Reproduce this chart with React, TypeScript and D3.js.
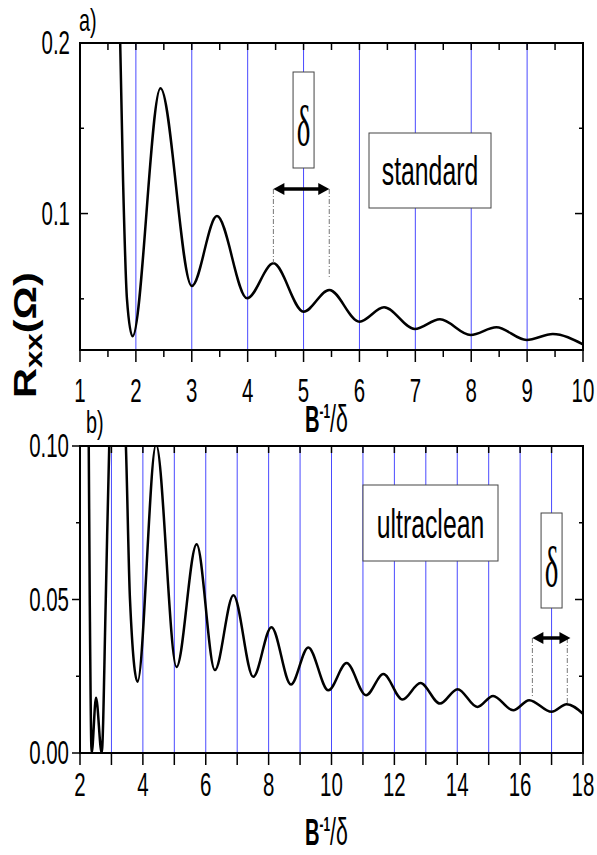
import React from 'react';
import * as d3 from 'd3';

// ---- data ----
const standardB = [1.70, 1.77, 1.84, 1.94, 2.44, 3.0, 3.45, 3.99, 4.46, 5.0, 5.46, 6.0, 6.44, 6.99, 7.44, 7.99, 8.45, 8.99, 9.46, 10.0];
const standardR = [0.23, 0.12, 0.05, 0.028, 0.1734, 0.0575, 0.0985, 0.0503, 0.0708, 0.0425, 0.0552, 0.0366, 0.045, 0.0323, 0.038, 0.0288, 0.0333, 0.0259, 0.0294, 0.0233];

const ultraB = [2.24, 2.31, 2.37, 2.51, 2.69, 2.82, 2.93, 3.2, 3.46, 3.59, 3.83, 4.42, 5.07, 5.71, 6.29, 6.88, 7.51, 8.09, 8.71, 9.26, 9.9, 10.48, 11.1, 11.65, 12.26, 12.83, 13.45, 14.01, 14.64, 15.14, 15.78, 16.29, 17.0, 17.48, 18.0];
const ultraR = [0.16, 0.05, 0.0, 0.018, 0.0, 0.05, 0.10, 0.14, 0.10, 0.05, 0.0232, 0.1005, 0.028, 0.068, 0.027, 0.0514, 0.0248, 0.041, 0.0223, 0.0344, 0.0204, 0.0293, 0.0188, 0.0257, 0.0174, 0.0228, 0.0161, 0.0208, 0.015, 0.0186, 0.0139, 0.0172, 0.0134, 0.0159, 0.0128];

const topXLabels = [1, 2, 3, 4, 5, 6, 7, 8, 9, 10];
const topYLabels = ['0.1', '0.2'];
const botXLabels = [2, 4, 6, 8, 10, 12, 14, 16, 18];
const botYLabels = ['0.00', '0.05', '0.10'];

// ---- layout ----
const W = 597, H = 855;
const L = 80, R = 583;
const PA = { top: 43, bottom: 350 };
const PB = { top: 446, bottom: 753 };
const FONT = "'Liberation Sans', Arial, sans-serif";
const SERIF = "'Liberation Serif', 'Times New Roman', serif";
const GRID = '#4a4aff';

type TP = { x: number; y: number; size: number; sx?: number; sy?: number; anchor?: string; weight?: string; family?: string; rotate?: number; children: any };
function T({ x, y, size, sx = 0.65, sy = 1, anchor = 'start', weight = 'normal', family = FONT, rotate = 0, children }: TP) {
  return (
    <text transform={`translate(${x},${y}) rotate(${rotate}) scale(${sx},${sy})`} fontSize={size} fontFamily={family} fontWeight={weight} textAnchor={anchor as any} fill="#000">
      {children}
    </text>
  );
}

function Arrow({ x1, x2, y }: { x1: number; x2: number; y: number }) {
  const h = 11, w = 6;
  return (
    <g>
      <line x1={x1 + h - 2} x2={x2 - h + 2} y1={y} y2={y} stroke="#000" strokeWidth={3.5} />
      <polygon points={`${x1},${y} ${x1 + h},${y - w} ${x1 + h},${y + w}`} fill="#000" />
      <polygon points={`${x2},${y} ${x2 - h},${y - w} ${x2 - h},${y + w}`} fill="#000" />
    </g>
  );
}

function AxisTitle({ x, y }: { x: number; y: number }) {
  return (
    <T x={x} y={y} size={36} sx={0.56}>
      <tspan fontWeight="bold">B</tspan>
      <tspan fontSize={21} fontWeight="bold" dy={-14}>-1</tspan>
      <tspan dy={14} fontSize={38}>/δ</tspan>
    </T>
  );
}

export default function App() {
  // panel a scales
  const xa = d3.scaleLinear().domain([1, 10]).range([L, R]);
  const ya = d3.scaleLinear().domain([0.02, 0.2]).range([PA.bottom, PA.top]);
  // panel b scales
  const xb = d3.scaleLinear().domain([2, 18]).range([L, R]);
  const yb = d3.scaleLinear().domain([0, 0.1]).range([PB.bottom, PB.top]);

  const lineA = d3.line<number>().x((_, i) => xa(standardB[i])).y((d) => ya(d)).curve(d3.curveMonotoneX);
  const lineB = d3.line<number>().x((_, i) => xb(ultraB[i])).y((d) => yb(d)).curve(d3.curveMonotoneX);

  const gridA = d3.range(2, 10);
  const gridB = d3.range(3, 18);

  const tickLabelSize = 33;
  const tsx = 0.62;

  return (
    <svg width={W} height={H} style={{ position: 'absolute', left: 0, top: 0, background: '#fff' }}>
      <defs>
        <clipPath id="clipA"><rect x={L} y={PA.top} width={R - L} height={PA.bottom - PA.top} /></clipPath>
        <clipPath id="clipB"><rect x={L} y={PB.top} width={R - L} height={PB.bottom - PB.top} /></clipPath>
      </defs>
      <rect x={0} y={0} width={W} height={H} fill="#fff" />

      {/* ===== Panel a ===== */}
      {gridA.map((v) => (
        <line key={'ga' + v} x1={xa(v)} x2={xa(v)} y1={PA.top} y2={PA.bottom} stroke={GRID} strokeWidth={1} />
      ))}
      {d3.range(1, 10.01, 0.5).map((v) => {
        const major = Number.isInteger(v);
        return (
          <g key={'ta' + v}>
            <line x1={xa(v)} x2={xa(v)} y1={PA.bottom} y2={PA.bottom + (major ? 12 : 7)} stroke="#000" strokeWidth={1.5} />
            <line x1={xa(v)} x2={xa(v)} y1={PA.top} y2={PA.top + 7} stroke="#000" strokeWidth={1.5} />
          </g>
        );
      })}
      {[0.05, 0.1, 0.15, 0.2].map((v) => {
        const major = Math.abs(v - 0.1) < 1e-9 || Math.abs(v - 0.2) < 1e-9;
        return (
          <g key={'tya' + v}>
            <line x1={L} x2={L + (major ? 8 : 4)} y1={ya(v)} y2={ya(v)} stroke="#000" strokeWidth={1.5} />
            <line x1={R} x2={R - (major ? 8 : 4)} y1={ya(v)} y2={ya(v)} stroke="#000" strokeWidth={1.5} />
          </g>
        );
      })}
      <path d={lineA(standardR) || ''} fill="none" stroke="#000" strokeWidth={2.5} clipPath="url(#clipA)" />
      <rect x={L} y={PA.top} width={R - L} height={PA.bottom - PA.top} fill="none" stroke="#000" strokeWidth={2} />

      {/* annotations a */}
      <line x1={xa(4.46)} x2={xa(4.46)} y1={189} y2={263} stroke="#777" strokeWidth={1} strokeDasharray="5,2,1,2" />
      <line x1={xa(5.46)} x2={xa(5.46)} y1={189} y2={278} stroke="#777" strokeWidth={1} strokeDasharray="5,2,1,2" />
      <Arrow x1={xa(4.46)} x2={xa(5.46)} y={189} />
      <rect x={xa(5.0) - 10.5} y={72} width={21} height={96} fill="#fff" stroke="#444" strokeWidth={1} />
      <T x={xa(5.0)} y={145} size={58} sx={0.5} anchor="middle" family={SERIF}>δ</T>
      <rect x={369} y={133} width={122} height={75} fill="#fff" stroke="#444" strokeWidth={1} />
      <T x={430} y={185} size={40} sx={0.62} anchor="middle">standard</T>

      {/* labels a */}
      <T x={79} y={31} size={32} sx={0.62}>a)</T>
      {topYLabels.map((s) => (
        <T key={'la' + s} x={70} y={ya(+s) + 11} size={tickLabelSize} sx={tsx} anchor="end">{s}</T>
      ))}
      {topXLabels.map((v) => (
        <T key={'lxa' + v} x={xa(v)} y={402} size={tickLabelSize} sx={tsx} anchor="middle">{String(v)}</T>
      ))}
      <AxisTitle x={305} y={432} />

      {/* y-axis title */}
      <T x={36} y={398} size={32} sx={1.3} sy={1} rotate={-90} weight="bold">
        <tspan>R</tspan>
        <tspan fontSize={24} dy={6}>xx</tspan>
        <tspan dy={-6}>(Ω)</tspan>
      </T>

      {/* ===== Panel b ===== */}
      {gridB.map((v) => (
        <line key={'gb' + v} x1={xb(v)} x2={xb(v)} y1={PB.top} y2={PB.bottom} stroke={GRID} strokeWidth={1} />
      ))}
      {d3.range(2, 18.01, 1).map((v) => (
        <g key={'tb' + v}>
          <line x1={xb(v)} x2={xb(v)} y1={PB.bottom} y2={PB.bottom + 12} stroke="#000" strokeWidth={1.5} />
          <line x1={xb(v)} x2={xb(v)} y1={PB.top} y2={PB.top + 7} stroke="#000" strokeWidth={1.5} />
        </g>
      ))}
      {[0, 0.025, 0.05, 0.075, 0.1].map((v, i) => {
        const major = i % 2 === 0;
        return (
          <g key={'tyb' + v}>
            <line x1={L} x2={L - (major ? 8 : 4)} y1={yb(v)} y2={yb(v)} stroke="#000" strokeWidth={1.5} />
            <line x1={R} x2={R - (major ? 8 : 4)} y1={yb(v)} y2={yb(v)} stroke="#000" strokeWidth={1.5} />
          </g>
        );
      })}
      <path d={lineB(ultraR) || ''} fill="none" stroke="#000" strokeWidth={2.5} clipPath="url(#clipB)" />
      <rect x={L} y={PB.top} width={R - L} height={PB.bottom - PB.top} fill="none" stroke="#000" strokeWidth={2} />

      {/* annotations b */}
      <line x1={xb(16.39)} x2={xb(16.39)} y1={638} y2={697} stroke="#777" strokeWidth={1} strokeDasharray="5,2,1,2" />
      <line x1={xb(17.5)} x2={xb(17.5)} y1={638} y2={703} stroke="#777" strokeWidth={1} strokeDasharray="5,2,1,2" />
      <Arrow x1={xb(16.39)} x2={xb(17.6)} y={638} />
      <rect x={xb(17.0) - 10.5} y={513} width={21} height={95} fill="#fff" stroke="#444" strokeWidth={1} />
      <T x={xb(17.0)} y={586} size={58} sx={0.5} anchor="middle" family={SERIF}>δ</T>
      <rect x={363} y={485} width={135} height={76} fill="#fff" stroke="#444" strokeWidth={1} />
      <T x={430.5} y={538} size={40} sx={0.62} anchor="middle">ultraclean</T>

      {/* labels b */}
      <T x={86} y={433} size={32} sx={0.62}>b)</T>
      {botYLabels.map((s) => (
        <T key={'lb' + s} x={69} y={yb(+s) + 11} size={tickLabelSize} sx={tsx} anchor="end">{s}</T>
      ))}
      {botXLabels.map((v) => (
        <T key={'lxb' + v} x={xb(v)} y={796} size={tickLabelSize} sx={tsx} anchor="middle">{String(v)}</T>
      ))}
      <AxisTitle x={305} y={845} />
    </svg>
  );
}
